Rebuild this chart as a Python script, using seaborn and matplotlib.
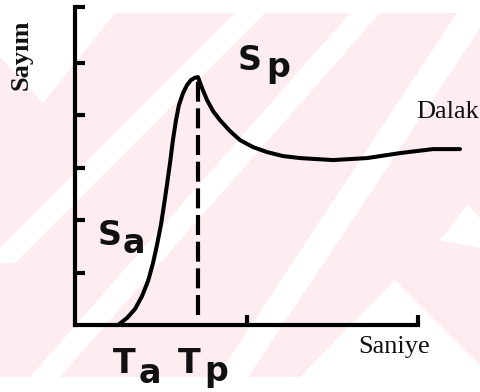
import matplotlib
matplotlib.use("Agg")
import matplotlib.pyplot as plt
from matplotlib.patches import Polygon, Rectangle
import seaborn as sns
import pandas as pd

# Spleen time-activity curve (counts vs seconds)
time_s = [0.251, 0.303, 0.350, 0.391, 0.426, 0.455, 0.478, 0.501, 0.519, 0.536,
          0.554, 0.571, 0.589, 0.606, 0.630, 0.653, 0.676, 0.700, 0.717, 0.741,
          0.770, 0.805, 0.845, 0.904, 0.962, 1.038, 1.120, 1.213, 1.312, 1.504,
          1.703, 1.895, 2.087, 2.245]
counts = [0.000, 0.133, 0.305, 0.552, 0.838, 1.181, 1.524, 1.905, 2.286, 2.667,
          3.086, 3.524, 3.905, 4.190, 4.419, 4.571, 4.667, 4.714, 4.724, 4.514,
          4.286, 4.076, 3.905, 3.695, 3.524, 3.390, 3.295, 3.219, 3.181, 3.143,
          3.181, 3.276, 3.352, 3.352]

# Peak time marker (Tp) and its height
peak_time = [0.717, 0.717]
peak_line = [0.19, 4.72]

y_ticks = [1, 2, 3, 4, 5, 6.06]
x_ticks = [1, 2]

W, H = 481, 392
sns.set_style("white")
plt.rcParams["font.family"] = ["DejaVu Sans"]

fig = plt.figure(figsize=(W / 100, H / 100), dpi=100)

# background watermark layer (pixel coordinates)
bg = fig.add_axes([0, 0, 1, 1], zorder=0)
bg.set_xlim(0, W)
bg.set_ylim(H, 0)
bg.axis("off")
pink = "#fdecf0"
bg.add_patch(Rectangle((0, 13), W, 364, color=pink, lw=0))
white_shapes = [
    [(0, 13), (115, 13), (43, 103), (0, 57)],
    [(235, 13), (265, 13), (15, 263), (-15, 263)],
    [(350, 13), (380, 13), (60, 377), (30, 377)],
    [(457, 13), (490, 13), (248, 377), (217, 377)],
    [(395, 280), (490, 375), (490, 377), (300, 377)],
    [(467, 205), (490, 228), (490, 250), (440, 240)],
]
for pts in white_shapes:
    bg.add_patch(Polygon(pts, closed=True, color="white", lw=0))


def fpos(px, py):
    return px / W, 1 - py / H


ax = fig.add_axes([75 / W, 67 / H, 394.45 / W, 318 / H], zorder=1)
ax.set_facecolor("none")

df = pd.DataFrame({"t": time_s, "c": counts})
sns.lineplot(data=df, x="t", y="c", ax=ax, sort=False, estimator=None,
             color="black", lw=2.9, solid_capstyle="round", solid_joinstyle="round")
for ln in ax.lines:
    ln.set_clip_on(False)
sns.lineplot(x=peak_time, y=peak_line, ax=ax, sort=False, estimator=None,
             color="black", lw=3.0)
ax.lines[-1].set_dashes((4.8, 1.6))

ax.set_xlim(0, 2.3)
ax.set_ylim(0, 6.06)
for side in ["top", "right"]:
    ax.spines[side].set_visible(False)
for side in ["left", "bottom"]:
    ax.spines[side].set_linewidth(3.0)
    ax.spines[side].set_color("black")
    ax.spines[side].set_capstyle("projecting")
ax.spines["bottom"].set_bounds(0, 2)

ax.set_yticks(y_ticks)
ax.set_xticks(x_ticks)
ax.tick_params(axis="both", direction="in", length=7, width=3.0,
               left=True, bottom=True, labelleft=False, labelbottom=False,
               color="black")
ax.set_xlabel("")
ax.set_ylabel("")

serif = ["Liberation Serif", "DejaVu Serif"]
sans = ["DejaVu Sans"]
fig.text(*fpos(21, 55), "Sayım", rotation=90, ha="center", va="center",
         fontsize=19, fontweight="bold", family=serif, color="#111")
fig.text(*fpos(416, 118), "Dalak", ha="left", va="baseline",
         fontsize=19, family=serif, color="#111")
fig.text(*fpos(358, 353), "Saniye", ha="left", va="baseline",
         fontsize=19, family=serif, color="#111")

big = dict(ha="left", va="baseline", fontsize=24, fontweight="bold",
           family=sans, color="#111")
for ch, px, py in [("S", 238, 70), ("p", 266, 77),
                   ("S", 98, 245), ("a", 123, 253),
                   ("T", 113, 373), ("a", 139, 383),
                   ("T", 178, 373), ("p", 204, 381)]:
    fig.text(*fpos(px, py), ch, **big)

fig.savefig("out.png", dpi=100)
